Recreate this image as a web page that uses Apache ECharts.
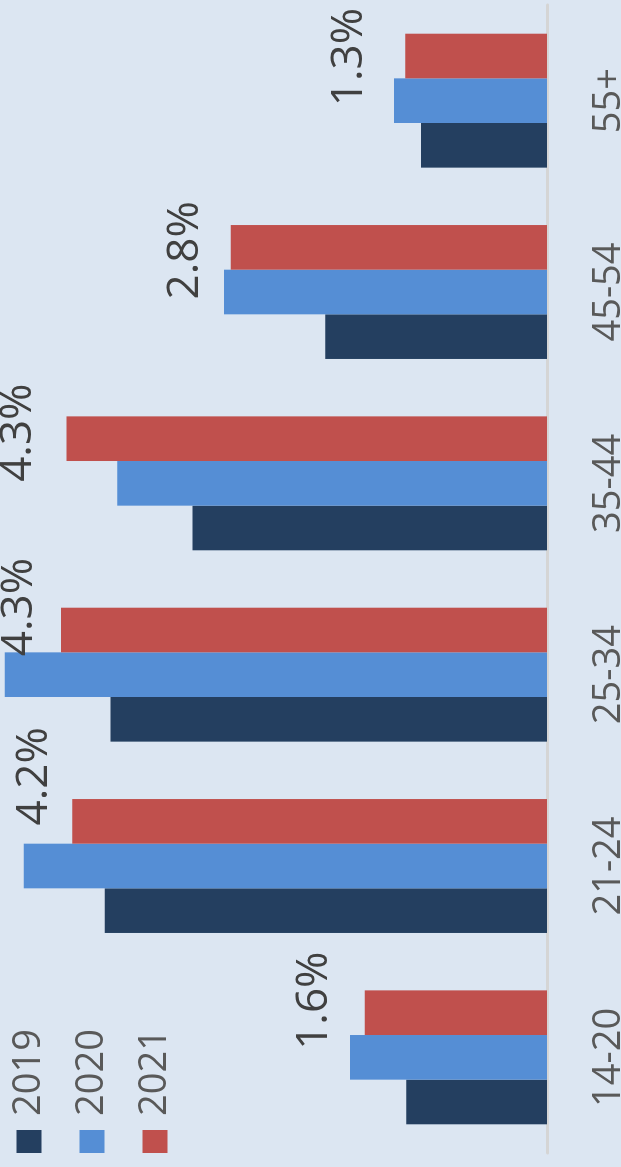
<!DOCTYPE html>
<html>
<head>
<meta charset="utf-8">
<script src="https://cdn.jsdelivr.net/npm/echarts@6/dist/echarts.min.js"></script>
<style>
html, body { margin: 0; padding: 0; background: #dce6f2; overflow: hidden; }
#wrap { position: absolute; left: 0; top: 0; width: 621px; height: 1167px; overflow: hidden; }
/* chart is drawn as a normal column chart and turned a quarter left */
#chart {
    position: absolute; left: 0; top: 0;
    width: 1167px; height: 621px;
    transform-origin: 0 0;
    transform: translate(0, 1167px) rotate(-90deg);
}
</style>
</head>
<body>
<div id="wrap"><div id="chart"></div></div>
<script>
var categories = ['14-20', '21-24', '25-34', '35-44', '45-54', '55+'];
var seriesNames = ['2019', '2020', '2021'];
var values2019 = [1.25, 3.93, 3.88, 3.15, 1.97, 1.12];
var values2020 = [1.75, 4.65, 4.82, 3.82, 2.87, 1.36];
var values2021 = [1.62, 4.22, 4.32, 4.27, 2.81, 1.26];

// hand placed value labels in the original, nudged like that here
var labelNudge = [[12, -28], [45, -16], [23, -20], [6, -26], [-3, -23], [-1, -34]];

var colors = ['#243f60', '#558ed5', '#c0504d'];
var font = 'Open Sans';

var chart = echarts.init(document.getElementById('chart'));

function barSeries(name, data, color, withLabel) {
    var s = {
        name: name,
        type: 'bar',
        barGap: '0%',
        barCategoryGap: '30%',
        itemStyle: { color: color },
        animation: false
    };
    if (withLabel) {
        s.data = data.map(function (v, i) {
            return { value: v, label: { offset: labelNudge[i] } };
        });
        s.label = {
            show: true,
            position: 'top',
            distance: 0,
            fontFamily: font,
            fontSize: 44,
            color: '#404040',
            formatter: function (p) { return p.value.toFixed(1) + '%'; }
        };
    } else {
        s.data = data;
    }
    return s;
}

chart.setOption({
    backgroundColor: '#dce6f2',
    animation: false,
    color: colors,
    legend: {
        orient: 'vertical',
        left: 9,
        top: 5,
        icon: 'rect',
        itemWidth: 23,
        itemHeight: 25,
        itemGap: 25,
        data: seriesNames,
        textStyle: { fontFamily: font, fontSize: 38, color: '#595959', padding: [0, 0, 0, 9] }
    },
    grid: { left: 14, right: 5, top: 0, bottom: 74, containLabel: false, outerBoundsMode: 'none' },
    xAxis: {
        type: 'category',
        data: categories,
        axisLine: { lineStyle: { color: '#d5d5d5', width: 3 } },
        axisTick: { show: false },
        axisLabel: { fontFamily: font, fontSize: 38, color: '#595959', margin: 43 }
    },
    yAxis: {
        type: 'value',
        min: 0,
        max: 4.862,
        show: false,
        splitLine: { show: false }
    },
    series: [
        barSeries(seriesNames[0], values2019, colors[0], false),
        barSeries(seriesNames[1], values2020, colors[1], false),
        barSeries(seriesNames[2], values2021, colors[2], true)
    ]
});
</script>
</body>
</html>
